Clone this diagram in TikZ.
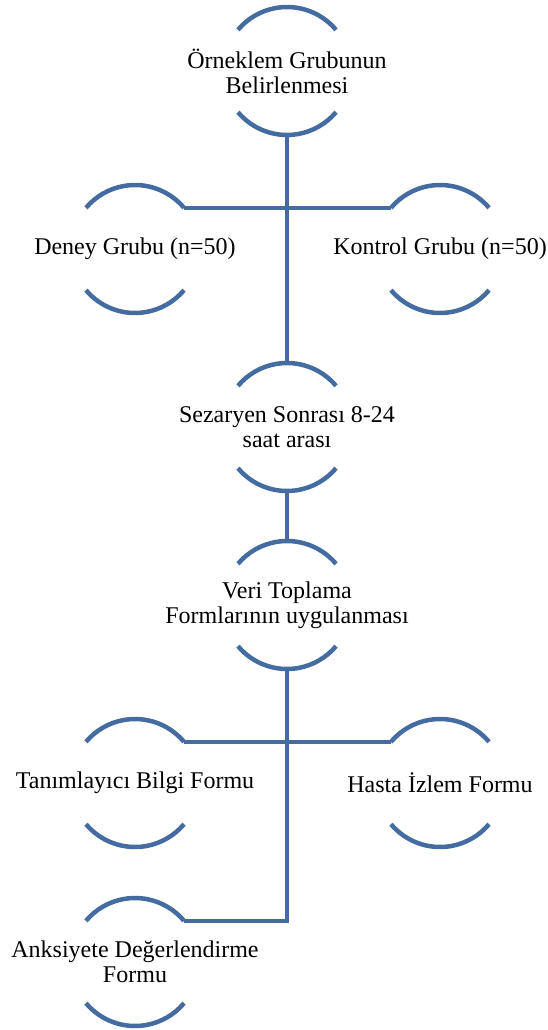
\documentclass[tikz,border=0pt]{standalone}
\usepackage{fontspec}
\setmainfont{LiberationSerif-Regular.ttf}
\definecolor{ringblue}{RGB}{68,108,160}
\begin{document}
\begin{tikzpicture}[x=1pt,y=1pt,
  ring/.style={circle,minimum size=128pt,inner sep=0pt,outer sep=0pt,draw=none},
  txt/.style={align=center,inner sep=0pt,font=\fontsize{24}{25}\selectfont},
  conn/.style={draw=ringblue,line width=4.5pt},
  arcs/.style={draw=ringblue,line width=4.5pt}]
\useasboundingbox (0,0) rectangle (547,-1030);
% ring nodes
\node[ring] (top) at (287,-71) {};
\node[ring] (deney) at (135,-249) {};
\node[ring] (kontrol) at (440,-249) {};
\node[ring] (sez) at (287,-427) {};
\node[ring] (veri) at (287,-605) {};
\node[ring] (tan) at (135,-783) {};
\node[ring] (hasta) at (440,-783) {};
\node[ring] (anks) at (135,-962) {};
% arcs
\foreach \n in {top,deney,kontrol,sez,veri,tan,hasta,anks}{
  \draw[arcs] (\n.40) arc[start angle=40,end angle=140,radius=64pt];
  \draw[arcs] (\n.220) arc[start angle=220,end angle=320,radius=64pt];
}
% texts
\node[txt] (toptxt) at (top) {Örneklem Grubunun\\Belirlenmesi};
\node[txt] (deneytxt) at (deney) {Deney Grubu (n=50)};
\node[txt] (kontroltxt) at (kontrol) {Kontrol Grubu (n=50)};
\node[txt] (seztxt) at (sez) {Sezaryen Sonrası 8-24\\saat arası};
\node[txt] (veritxt) at (veri) {Veri Toplama\\Formlarının uygulanması};
\node[txt] (tantxt) at (tan) {Tanımlayıcı Bilgi Formu};
\node[txt] (hastatxt) at (hasta) {Hasta İzlem Formu};
\node[txt] (ankstxt) at (anks) {Anksiyete Değerlendirme\\Formu};
% connectors
\draw[conn] (top.south) -- (sez.north);
\draw[conn] (deney.40) -- (kontrol.140);
\draw[conn] (sez.south) -- (veri.north);
\draw[conn] (tan.40) -- (hasta.140);
\coordinate (corner) at (veri.south |- anks.40);
\draw[conn,line join=miter] (veri.south) -- (corner) -- (anks.40);
\end{tikzpicture}
\end{document}
